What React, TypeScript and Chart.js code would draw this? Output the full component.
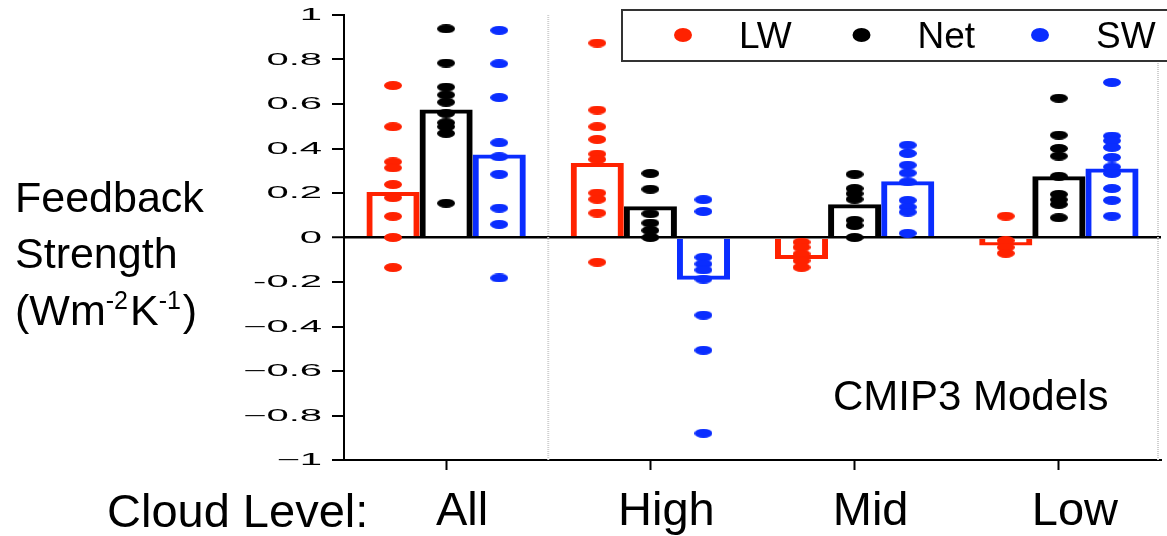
import React, { useEffect, useRef } from 'react';
import { Chart, registerables } from 'chart.js';

Chart.register(...registerables);

const categories = ['All', 'High', 'Mid', 'Low'];
const seriesNames = ['LW', 'Net', 'SW'];
const seriesColors = ['#ff2200', '#000000', '#0a2dff'];

// multi-model mean (bars)
const lwMean = [0.205, 0.335, -0.097, -0.036];
const netMean = [0.575, 0.14, 0.15, 0.275];
const swMean = [0.373, -0.19, 0.253, 0.31];

// individual models (dots), one list per cloud level
const lwModels = [
  [0.683, 0.498, 0.34, 0.313, 0.238, 0.179, 0.095, 0.0, -0.135],
  [0.874, 0.573, 0.498, 0.441, 0.375, 0.351, 0.2, 0.172, 0.11, -0.111],
  [-0.021, -0.044, -0.074, -0.104, -0.134],
  [0.096, -0.014, -0.044, -0.071],
];
const netModels = [
  [0.938, 0.784, 0.676, 0.641, 0.608, 0.558, 0.516, 0.498, 0.468, 0.154],
  [0.288, 0.217, 0.107, 0.065, 0.032, 0.0],
  [0.284, 0.22, 0.197, 0.172, 0.077, 0.054, 0.0],
  [0.626, 0.46, 0.4, 0.366, 0.275, 0.194, 0.17, 0.149, 0.089],
];
const swModels = [
  [0.931, 0.781, 0.629, 0.426, 0.363, 0.284, 0.132, 0.059, -0.182],
  [0.17, 0.117, -0.089, -0.119, -0.146, -0.187, -0.349, -0.507, -0.88],
  [0.415, 0.378, 0.325, 0.29, 0.25, 0.167, 0.137, 0.114, 0.019],
  [0.697, 0.456, 0.435, 0.405, 0.36, 0.317, 0.288, 0.22, 0.167, 0.096],
];

const yTickValues = [-1, -0.8, -0.6, -0.4, -0.2, 0, 0.2, 0.4, 0.6, 0.8, 1];
const yTickLabels = ['\u22121', '\u22120.8', '\u22120.6', '\u22120.4', '-0.2', '0', '0.2', '0.4', '0.6', '0.8', '1'];

const yTitleLines = ['Feedback', 'Strength'];
const xAxisPrefix = 'Cloud Level:';
const annotationText = 'CMIP3 Models';

const FONT = '"Liberation Sans", Arial, Helvetica, sans-serif';
const CAT_PCT = 0.78;

function makeDot(color: string, w: number, h: number) {
  const c = document.createElement('canvas');
  c.width = w;
  c.height = h;
  const g = c.getContext('2d')!;
  g.fillStyle = color;
  g.beginPath();
  g.ellipse(w / 2, h / 2, w / 2, h / 2, 0, 0, Math.PI * 2);
  g.fill();
  return c;
}

const decorPlugin = {
  id: 'decor',
  beforeDatasetsDraw(chart: any) {
    const { ctx, chartArea, scales } = chart;
    const x = scales.x;
    ctx.save();
    ctx.strokeStyle = '#cfcfcf';
    ctx.lineWidth = 2;
    ctx.setLineDash([1, 1]);
    const sep = x.getPixelForValue(0.5);
    ctx.beginPath();
    ctx.moveTo(sep, chartArea.top);
    ctx.lineTo(sep, chartArea.bottom);
    ctx.moveTo(chartArea.right - 3, chartArea.top + 30);
    ctx.lineTo(chartArea.right - 3, chartArea.bottom);
    ctx.stroke();
    ctx.restore();
  },
  afterDraw(chart: any) {
    const { ctx, chartArea, scales } = chart;
    const y = scales.y;
    ctx.save();
    ctx.fillStyle = '#000';
    // y tick labels (horizontally stretched as in the original)
    const sx = 2.5;
    ctx.font = `16px ${FONT}`;
    ctx.textAlign = 'right';
    ctx.textBaseline = 'middle';
    yTickValues.forEach((v, i) => {
      const py = y.getPixelForValue(v);
      ctx.save();
      ctx.translate(chartArea.left - 22, py + 1);
      ctx.scale(sx, 1);
      ctx.fillText(yTickLabels[i], 0, 0);
      ctx.restore();
    });

    // y title
    ctx.textAlign = 'left';
    ctx.textBaseline = 'alphabetic';
    const big = `43px ${FONT}`;
    const small = `25px ${FONT}`;
    ctx.font = big;
    ctx.fillText(yTitleLines[0], 15, 212);
    ctx.fillText(yTitleLines[1], 15, 268);
    let cx = 15;
    const base = 325;
    const parts: [string, boolean][] = [['(Wm', false], ['-2', true], ['K', false], ['-1', true], [')', false]];
    parts.forEach(([t, sup]) => {
      ctx.font = sup ? small : big;
      ctx.fillText(t, cx, sup ? base - 16 : base);
      cx += ctx.measureText(t).width + (sup ? 2 : 0);
    });

    // x prefix
    ctx.font = `47px ${FONT}`;
    ctx.fillText(xAxisPrefix, 107, 527);

    // annotation
    ctx.font = `42px ${FONT}`;
    ctx.fillText(annotationText, 833, 410);

    // legend
    ctx.lineWidth = 2;
    ctx.strokeStyle = '#333';
    ctx.fillStyle = '#fff';
    ctx.fillRect(622, 10, 620, 51);
    ctx.strokeRect(622, 10, 620, 51);
    ctx.font = `37px ${FONT}`;
    ctx.textBaseline = 'alphabetic';
    seriesNames.forEach((name, i) => {
      const dx = 683 + i * 178.5;
      ctx.fillStyle = seriesColors[i];
      ctx.beginPath();
      ctx.ellipse(dx, 35, 9, 7, 0, 0, Math.PI * 2);
      ctx.fill();
      ctx.fillStyle = '#000';
      ctx.fillText(name, dx + 56, 48);
    });
    ctx.restore();
  },
};

export default function App() {
  const ref = useRef<HTMLCanvasElement>(null);
  useEffect(() => {
    if (!ref.current) return;
    const means = [lwMean, netMean, swMean];
    const models = [lwModels, netModels, swModels];
    const barSets = means.map((m, s) => ({
      type: 'bar' as const,
      label: seriesNames[s],
      data: m.map((v, i) => ({ x: i, y: v })),
      backgroundColor: 'rgba(255,255,255,0)',
      borderColor: seriesColors[s],
      borderSkipped: false,
      borderWidth: (c: any) =>
        c.raw && c.raw.y >= 0 ? { top: 4, left: 6, right: 6, bottom: 0 } : { top: 0, left: 6, right: 6, bottom: 4 },
      categoryPercentage: CAT_PCT,
      barPercentage: 1,
      grouped: true,
      order: 2,
    }));
    const dotSets = models.map((grp, s) => {
      const img = makeDot(seriesColors[s], 18, 9);
      const pts: { x: number; y: number }[] = [];
      grp.forEach((vals, i) => {
        vals.forEach((v) => pts.push({ x: i + ((s - 1) * CAT_PCT) / 3, y: v }));
      });
      return {
        type: 'scatter' as const,
        label: seriesNames[s] + ' models',
        data: pts,
        pointStyle: img,
        pointRadius: 5,
        backgroundColor: seriesColors[s],
        borderColor: seriesColors[s],
        showLine: false,
        grouped: false,
        order: 1,
      };
    });
    const chart = new Chart(ref.current, {
      type: 'bar',
      data: { datasets: [...barSets, ...dotSets] as any },
      options: {
        animation: false,
        responsive: false,
        maintainAspectRatio: false,
        layout: { padding: { top: 15, left: 0, right: 0, bottom: 0 } },
        plugins: { legend: { display: false }, tooltip: { enabled: false } },
        scales: {
          x: {
            type: 'linear',
            offset: false,
            min: -0.5,
            max: categories.length - 0.5,
            afterBuildTicks: (s: any) => {
              s.ticks = categories.map((_, i) => ({ value: i }));
            },
            grid: {
              offset: false,
              drawOnChartArea: false,
              drawTicks: true,
              tickLength: 10,
              tickColor: '#000',
              tickWidth: 2,
            },
            border: { display: true, color: '#000', width: 2 },
            ticks: {
              color: '#000',
              font: { family: FONT, size: 47 },
              padding: 14,
              labelOffset: 16,
              maxRotation: 0,
              autoSkip: false,
              callback: (v: any) => categories[Math.round(Number(v))] ?? '',
            },
            afterFit: (s: any) => {
              s.height = 76;
            },
          },
          y: {
            type: 'linear',
            min: -1,
            max: 1,
            afterBuildTicks: (s: any) => {
              s.ticks = yTickValues.map((v) => ({ value: v }));
            },
            ticks: { display: false },
            grid: {
              drawOnChartArea: true,
              color: (c: any) => (c.tick && c.tick.value === 0 ? '#000' : 'rgba(0,0,0,0)'),
              lineWidth: (c: any) => (c.tick && c.tick.value === 0 ? 2.5 : 0),
              drawTicks: true,
              tickLength: 12,
              tickColor: '#000',
              tickWidth: 2,
            },
            border: { display: true, color: '#000', width: 2 },
            afterFit: (s: any) => {
              s.width = 344;
            },
          },
        },
      },
      plugins: [decorPlugin],
    });
    return () => chart.destroy();
  }, []);
  return (
    <div style={{ position: 'fixed', left: 0, top: 0, width: 1167, height: 536, background: '#fff' }}>
      <canvas ref={ref} width={1167} height={536} style={{ display: 'block' }} />
    </div>
  );
}
